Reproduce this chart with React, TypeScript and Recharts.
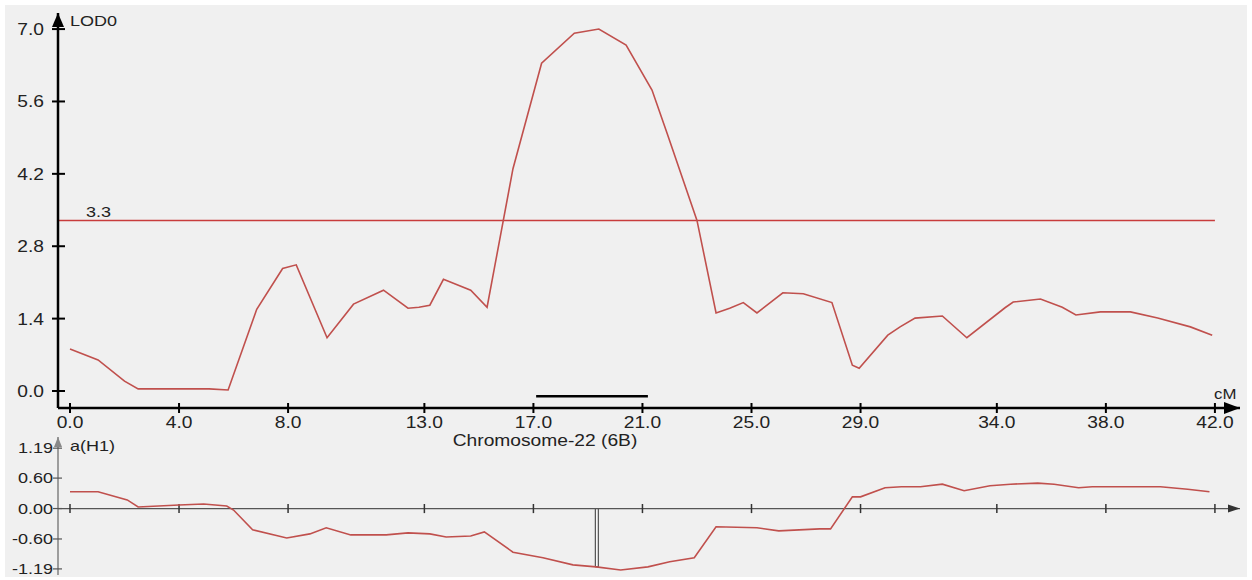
import React from 'react';
import { LineChart, Line, XAxis, YAxis, ReferenceLine, ReferenceDot, ReferenceArea } from 'recharts';

// ---- data ----
const xTicks = [0, 4, 8, 13, 17, 21, 25, 29, 34, 38, 42];
const lodTicks = [0, 1.4, 2.8, 4.2, 5.6, 7.0];
const effTicks = [-1.19, -0.6, 0, 0.6, 1.19];

const lodPos = [0.0, 1.03, 2.0, 2.5, 5.1, 5.8, 6.85, 7.8, 8.3, 9.43, 10.4, 11.5, 12.4, 12.8, 13.2, 13.7, 14.7, 15.3, 16.25, 17.3, 18.5, 19.4, 20.4, 21.35, 21.9, 23.0, 23.7, 24.2, 24.7, 25.2, 26.15, 26.9, 27.95, 28.7, 28.95, 30.0, 30.45, 31.0, 32.0, 32.9, 34.3, 34.6, 35.6, 36.4, 36.9, 37.8, 38.9, 39.9, 41.1, 41.9];
const lodVal = [0.81, 0.6, 0.19, 0.04, 0.04, 0.02, 1.58, 2.37, 2.44, 1.03, 1.68, 1.95, 1.6, 1.62, 1.66, 2.16, 1.95, 1.62, 4.3, 6.34, 6.92, 7.0, 6.69, 5.82, 4.99, 3.3, 1.51, 1.6, 1.71, 1.51, 1.9, 1.88, 1.71, 0.5, 0.44, 1.08, 1.24, 1.41, 1.45, 1.03, 1.61, 1.72, 1.78, 1.62, 1.47, 1.53, 1.53, 1.41, 1.24, 1.08];

const effPos = [0.0, 1.03, 2.1, 2.5, 4.0, 4.9, 5.75, 6.0, 6.7, 7.95, 8.8, 9.4, 10.3, 11.6, 12.4, 13.2, 13.8, 14.7, 15.2, 16.25, 17.35, 18.45, 19.3, 20.2, 21.2, 22.0, 22.9, 23.7, 25.2, 26.0, 27.5, 27.9, 28.7, 29.0, 29.9, 30.5, 31.2, 32.0, 32.8, 33.75, 34.5, 35.5, 36.1, 37.0, 37.5, 40.0, 41.0, 41.8];
const effVal = [0.33, 0.33, 0.17, 0.03, 0.07, 0.09, 0.05, -0.03, -0.42, -0.58, -0.5, -0.38, -0.52, -0.52, -0.48, -0.5, -0.56, -0.54, -0.46, -0.86, -0.97, -1.11, -1.15, -1.21, -1.15, -1.05, -0.97, -0.36, -0.38, -0.44, -0.4, -0.4, 0.23, 0.23, 0.41, 0.43, 0.43, 0.48, 0.35, 0.45, 0.48, 0.5, 0.48, 0.41, 0.43, 0.43, 0.38, 0.33];

const threshold = 3.3;
const ciStart = 17.1;
const ciEnd = 21.2;
const ciLevel = -0.1;
const peakPos = 19.3;
const peakEffect = -1.15;

const lodData = lodPos.map((x, i) => ({ cM: x, lod: lodVal[i] }));
const effData = effPos.map((x, i) => ({ cM: x, a: effVal[i] }));

const X_DOMAIN: [number, number] = [-0.44, 42.92];
const FONT = '"Liberation Sans", Arial, sans-serif';
const CURVE = '#c0504d';
const TXT = '#222';
const SX = 1.2;

const fmt1 = (v: number) => v.toFixed(1);
const fmt2 = (v: number) => v.toFixed(2);

const SText = ({ x, y, anchor, size, children }: any) => (
  <text
    transform={`translate(${x},${y}) scale(${SX},1)`}
    x={0}
    y={0}
    textAnchor={anchor}
    fontSize={size}
    fill={TXT}
    fontFamily={FONT}
  >
    {children}
  </text>
);

const YTickTop = (props: any) => {
  const { x, y, payload } = props;
  return (
    <g>
      <line x1={x - 6} x2={x + 7} y1={y} y2={y} stroke="#000" strokeWidth={2} />
      <SText x={x - 14} y={y + 6} anchor="end" size={16}>{fmt1(payload.value)}</SText>
    </g>
  );
};

const XTickTop = (props: any) => {
  const { x, y, payload } = props;
  return (
    <g>
      <line x1={x} x2={x} y1={y - 5} y2={y + 5} stroke="#000" strokeWidth={2} />
      <SText x={x} y={y + 20} anchor="middle" size={16}>{fmt1(payload.value)}</SText>
    </g>
  );
};

const YTickBot = (props: any) => {
  const { x, y, payload } = props;
  return (
    <g>
      <line x1={x - 5} x2={x + 4} y1={y} y2={y} stroke="#555" strokeWidth={1.2} />
      <SText x={x - 5} y={y + 5} anchor="end" size={15}>{fmt2(payload.value)}</SText>
    </g>
  );
};

const UpArrow = (color: string, w: number, h: number) => (props: any) => {
  const { cx, cy } = props;
  return <polygon points={`${cx},${cy} ${cx - w},${cy + h} ${cx + w},${cy + h}`} fill={color} />;
};
const RightArrow = (color: string, w: number, h: number) => (props: any) => {
  const { cx, cy } = props;
  return <polygon points={`${cx},${cy} ${cx - h},${cy - w} ${cx - h},${cy + w}`} fill={color} />;
};

const labelStyle = (left: number, top: number, size: number, origin = 'left'): React.CSSProperties => ({
  position: 'absolute',
  left,
  top,
  fontSize: size,
  color: TXT,
  whiteSpace: 'nowrap',
  lineHeight: 1,
  transform: origin === 'center' ? `translateX(-50%) scaleX(${SX})` : `scaleX(${SX})`,
  transformOrigin: origin === 'center' ? 'center' : 'left',
});

export default function App() {
  return (
    <div style={{ position: 'absolute', left: 0, top: 0, width: 1252, height: 580, background: '#fff', fontFamily: FONT }}>
      <div style={{ position: 'absolute', left: 5, top: 5, width: 1242, height: 572, background: '#f0f0f0' }} />
      {/* top LOD panel */}
      <div style={{ position: 'absolute', left: 0, top: 0 }}>
        <LineChart width={1252} height={445} data={lodData} margin={{ top: 13, right: 12, bottom: 0, left: 0 }}>
          <XAxis
            dataKey="cM"
            type="number"
            domain={X_DOMAIN}
            ticks={xTicks}
            allowDataOverflow
            height={37}
            tickSize={0}
            tickMargin={0}
            interval={0}
            axisLine={{ stroke: '#000', strokeWidth: 2.5 }}
            tick={<XTickTop />}
          />
          <YAxis
            type="number"
            domain={[-0.329, 7.311]}
            ticks={lodTicks}
            allowDataOverflow
            width={58}
            tickSize={0}
            tickMargin={0}
            interval={0}
            axisLine={{ stroke: '#000', strokeWidth: 2.5 }}
            tick={<YTickTop />}
          />
          <ReferenceLine
            segment={[{ x: X_DOMAIN[0], y: threshold }, { x: 42, y: threshold }]}
            stroke="#c83c3c"
            strokeWidth={1.5}
            ifOverflow="visible"
          />
          <ReferenceLine
            segment={[{ x: ciStart, y: ciLevel }, { x: ciEnd, y: ciLevel }]}
            stroke="#000"
            strokeWidth={2.5}
            ifOverflow="visible"
          />
          <Line type="linear" dataKey="lod" stroke={CURVE} strokeWidth={1.6} dot={false} isAnimationActive={false} />
          <ReferenceDot x={X_DOMAIN[0]} y={7.311} r={0} ifOverflow="visible" shape={UpArrow('#000', 6, 14)} />
          <ReferenceDot x={X_DOMAIN[1]} y={-0.329} r={0} ifOverflow="visible" shape={RightArrow('#000', 6, 16)} />
        </LineChart>
      </div>
      <div style={labelStyle(70, 13, 15)}>LOD0</div>
      <div style={labelStyle(86, 204, 15)}>3.3</div>
      <div style={labelStyle(1214, 387, 14)}>cM</div>
      <div style={labelStyle(545, 433, 16, 'center')}>Chromosome-22 (6B)</div>
      {/* bottom effect panel */}
      <div style={{ position: 'absolute', left: 0, top: 0 }}>
        <LineChart width={1252} height={580} data={effData} margin={{ top: 437, right: 12, bottom: 5, left: 0 }}>
          <XAxis dataKey="cM" type="number" domain={X_DOMAIN} ticks={xTicks} allowDataOverflow hide />
          <YAxis
            type="number"
            domain={[-1.31, 1.41]}
            ticks={effTicks}
            allowDataOverflow
            width={58}
            tickSize={0}
            tickMargin={0}
            interval={0}
            axisLine={{ stroke: '#666', strokeWidth: 1.2 }}
            tick={<YTickBot />}
          />
          <ReferenceLine segment={[{ x: X_DOMAIN[0], y: 0 }, { x: X_DOMAIN[1], y: 0 }]} stroke="#555" strokeWidth={1.2} ifOverflow="visible" />
          {xTicks.map((t) => (
            <ReferenceLine key={t} segment={[{ x: t, y: -0.09 }, { x: t, y: 0.09 }]} stroke="#333" strokeWidth={1.5} ifOverflow="visible" />
          ))}
          <ReferenceArea x1={peakPos - 0.03} x2={peakPos + 0.08} y1={peakEffect} y2={0} fill="#fff" fillOpacity={0.6} stroke="#333" strokeWidth={1} ifOverflow="visible" />
          <Line type="linear" dataKey="a" stroke={CURVE} strokeWidth={1.6} dot={false} isAnimationActive={false} />
          <ReferenceDot x={X_DOMAIN[0]} y={1.41} r={0} ifOverflow="visible" shape={UpArrow('#888', 4, 10)} />
          <ReferenceDot x={X_DOMAIN[1]} y={0} r={0} ifOverflow="visible" shape={RightArrow('#333', 4, 12)} />
        </LineChart>
      </div>
      <div style={labelStyle(70, 438, 15)}>a(H1)</div>
    </div>
  );
}
